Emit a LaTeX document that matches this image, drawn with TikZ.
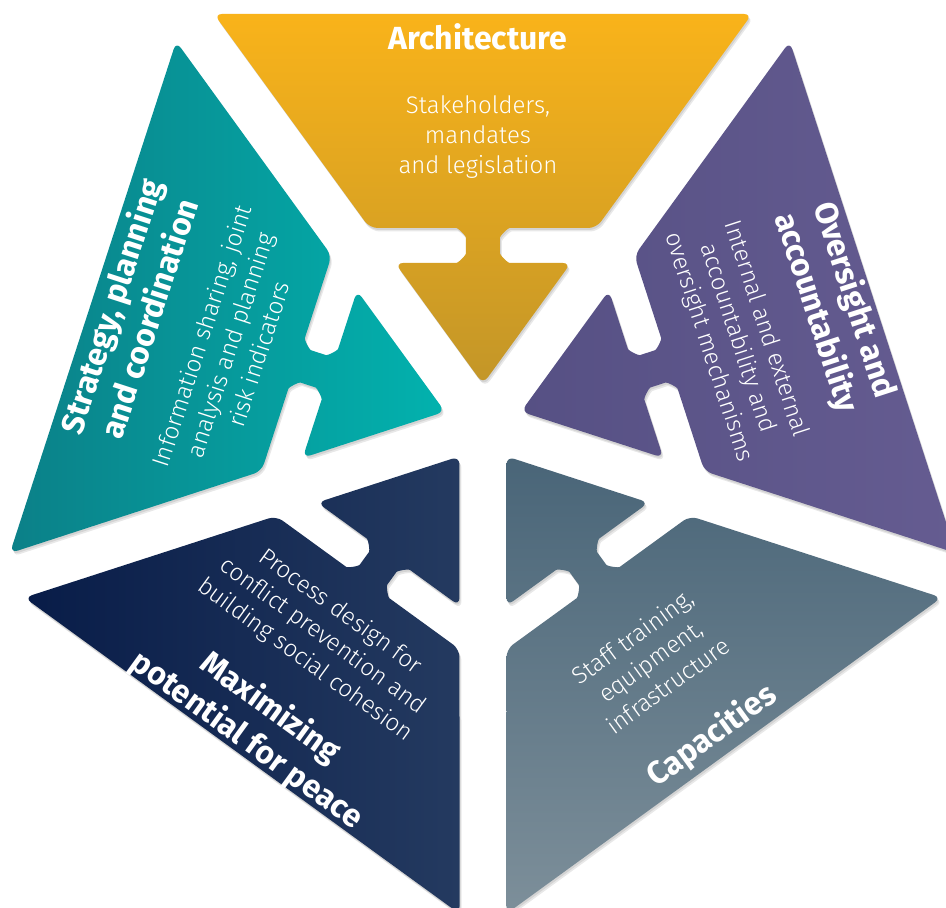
\documentclass[tikz,border=0pt]{standalone}
\usepackage{fontspec}
\setmainfont{Fira Sans}
\IfFontExistsTF{Fira Sans Light}{\newfontfamily\bodyfont{Fira Sans Light}}{%
  \IfFontExistsTF{FiraSans-Light.otf}{\newfontfamily\bodyfont{FiraSans-Light.otf}}{\newcommand\bodyfont{\normalfont}}}
\definecolor{orT}{RGB}{249,179,26}
\definecolor{orB}{RGB}{195,150,40}
\definecolor{tlL}{RGB}{11,128,136}
\definecolor{tlR}{RGB}{2,178,174}
\definecolor{puL}{RGB}{86,80,132}
\definecolor{puR}{RGB}{101,92,145}
\definecolor{nvL}{RGB}{8,28,72}
\definecolor{nvR}{RGB}{36,58,96}
\definecolor{slT}{RGB}{73,101,120}
\definecolor{slB}{RGB}{125,143,154}
\tikzset{
  piecepath/.style={insert path={(0,410) -- (-269,410) -- (-113.3,196) -- (-34.5,196)
     .. controls (-24.84,196) and (-17,188.16) .. (-17,178.5)
     .. controls (-17,168.84) and (-24.84,161) .. (-34.5,161)
     -- (-87.9,161) -- (0,40) -- (87.9,161) -- (34.5,161)
     .. controls (24.84,161) and (17,168.84) .. (17,178.5)
     .. controls (17,188.16) and (24.84,196) .. (34.5,196)
     -- (113.3,196) -- (269,410) -- cycle}},
  shadowpc/.style={fill=black, opacity=0.09, rounded corners=8pt},
  ttl/.style={text=white, font=\bfseries\fontsize{32}{40}\selectfont, align=center, inner sep=0pt, transform shape},
  bdy/.style={text=white, font=\bodyfont\fontsize{24}{30}\selectfont, align=center, inner sep=0pt, transform shape},
}
\newcommand\mkpiece[2]{%
  \begin{scope}[shift={(1,-2)},rotate=#1]\fill[shadowpc, piecepath];\end{scope}
  \begin{scope}[shift={(2,-3.5)},rotate=#1]\fill[shadowpc, piecepath];\end{scope}
  \begin{scope}[rotate=#1]\shade[rounded corners=8pt, #2, piecepath];\end{scope}}
\begin{document}
\begin{tikzpicture}[x=1pt,y=1pt]
\useasboundingbox (-483,-484) rectangle (463,424);
\clip (-483,-484) rectangle (463,424);
\fill[white] (-483,-484) rectangle (463,424);
\mkpiece{0}{top color=orT, bottom color=orB}
\mkpiece{72}{left color=tlL, right color=tlR}
\mkpiece{-72}{left color=puL, right color=puR}
\mkpiece{144}{left color=nvL, right color=nvR}
\mkpiece{-144}{top color=slT, bottom color=slB}
% Architecture
\node[ttl] (archT) at (-5,387) {Architecture};
\node[bdy] (archB) at (-5,287) {Stakeholders,\\mandates\\and legislation};
% Strategy
\begin{scope}[rotate=72]
\node[ttl] (stratT) at (-3,371) {Strategy, planning\\and coordination};
\node[bdy] (stratB) at (-3,265) {Information sharing, joint\\analysis and planning\\risk indicators};
\end{scope}
% Oversight
\begin{scope}[rotate=-72]
\node[ttl] (overT) at (-3,371) {Oversight and\\accountability};
\node[bdy] (overB) at (-3,268) {Internal and external\\accountability and\\oversight mechanisms};
\end{scope}
% Maximizing
\begin{scope}[rotate=144]
\node[ttl, rotate=180] (maxT) at (5,375) {Maximizing\\potential for peace};
\node[bdy, rotate=180] (maxB) at (5,266) {Process design for\\conflict prevention and\\building social cohesion};
\end{scope}
% Capacities
\begin{scope}[rotate=-144]
\node[ttl, rotate=180] (capT) at (-2,387) {Capacities};
\node[bdy, rotate=180] (capB) at (4,290) {Staff training,\\equipment,\\infrastructure};
\end{scope}
\end{tikzpicture}
\end{document}
